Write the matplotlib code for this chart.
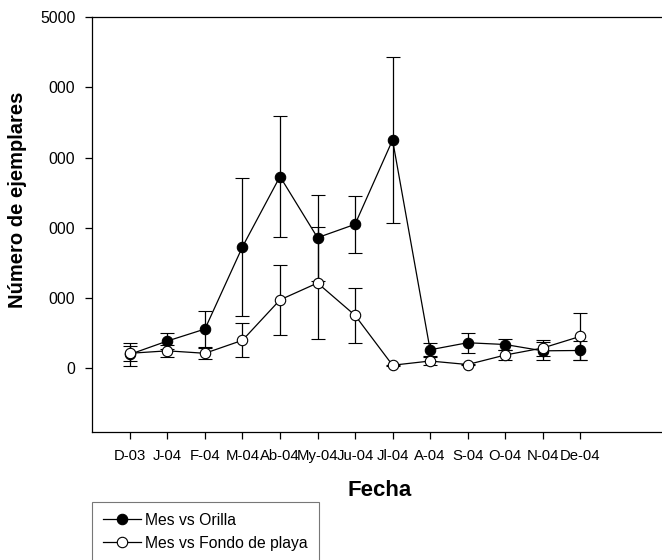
import matplotlib
matplotlib.use("Agg")
import matplotlib.pyplot as plt
import numpy as np

plt.rcParams['font.family'] = ['Liberation Sans', 'DejaVu Sans']

# Data
fechas = ["D-03", "J-04", "F-04", "M-04", "Ab-04", "My-04", "Ju-04",
          "Jl-04", "A-04", "S-04", "O-04", "N-04", "De-04"]
orilla = [200, 390, 560, 1730, 2730, 1860, 2050, 3250, 265, 365, 340, 250, 255]
orilla_err = [165, 113, 256, 985, 855, 613, 410, 1180, 95, 140, 80, 125, 140]
fondo = [215, 250, 215, 400, 975, 1215, 755, 45, 105, 55, 190, 290, 455]
fondo_err = [110, 90, 80, 240, 500, 800, 390, 10, 60, 10, 76, 115, 340]

ytick_vals = [0, 1000, 2000, 3000, 4000, 5000]
ytick_labels = ["0", "000", "000", "000", "000", "5000"]

x = np.arange(len(fechas))

fig = plt.figure(figsize=(6.62, 5.6), dpi=100)
ax = fig.add_axes([92 / 662, 1 - 432 / 560, 1 - 92 / 662, (432 - 17) / 560])

l1 = ax.errorbar(x, orilla, yerr=orilla_err, color='black', marker='o', markersize=7.5,
                 markerfacecolor='black', markeredgecolor='black', markeredgewidth=0.8,
                 linewidth=0.9, elinewidth=0.9, capsize=4.7, capthick=0.9, zorder=3)
l2 = ax.errorbar(x, fondo, yerr=fondo_err, color='black', marker='o', markersize=7.5,
                 markerfacecolor='white', markeredgecolor='black', markeredgewidth=0.8,
                 linewidth=0.9, elinewidth=0.9, capsize=4.7, capthick=0.9, zorder=4)

ax.set_xlim(-1.01, 14.18)
ax.set_ylim(-905, 5000)
ax.spines['right'].set_visible(False)
for s in ['left', 'bottom', 'top']:
    ax.spines[s].set_linewidth(0.9)

ax.set_xticks(x)
ax.set_xticklabels(fechas, fontsize=10.7)
ax.set_yticks(ytick_vals)
ax.set_yticklabels(ytick_labels, fontsize=11.3)
ax.tick_params(axis='both', direction='out', length=5, width=0.9)
ax.tick_params(axis='x', pad=7)
ax.tick_params(axis='y', pad=7)

fig.text(380 / 662, 1 - 490 / 560, "Fecha", fontsize=16, fontweight='bold',
         ha='center', va='center')
fig.text(18 / 662, 1 - 200 / 560, "Número de ejemplares", rotation=90,
         fontsize=14.5, fontweight='bold', ha='center', va='center')

leg = fig.legend([l1[0], l2[0]], ["Mes vs Orilla", "Mes vs Fondo de playa"],
                 loc='upper left', bbox_to_anchor=(92 / 662, 1 - 502 / 560),
                 fontsize=11.3, frameon=True, fancybox=False,
                 handlelength=2.4, handletextpad=0.3, borderpad=0.7,
                 labelspacing=0.5, borderaxespad=0)
leg.get_frame().set_edgecolor('#555555')
leg.get_frame().set_linewidth(0.8)

fig.savefig("out.png", dpi=100)
